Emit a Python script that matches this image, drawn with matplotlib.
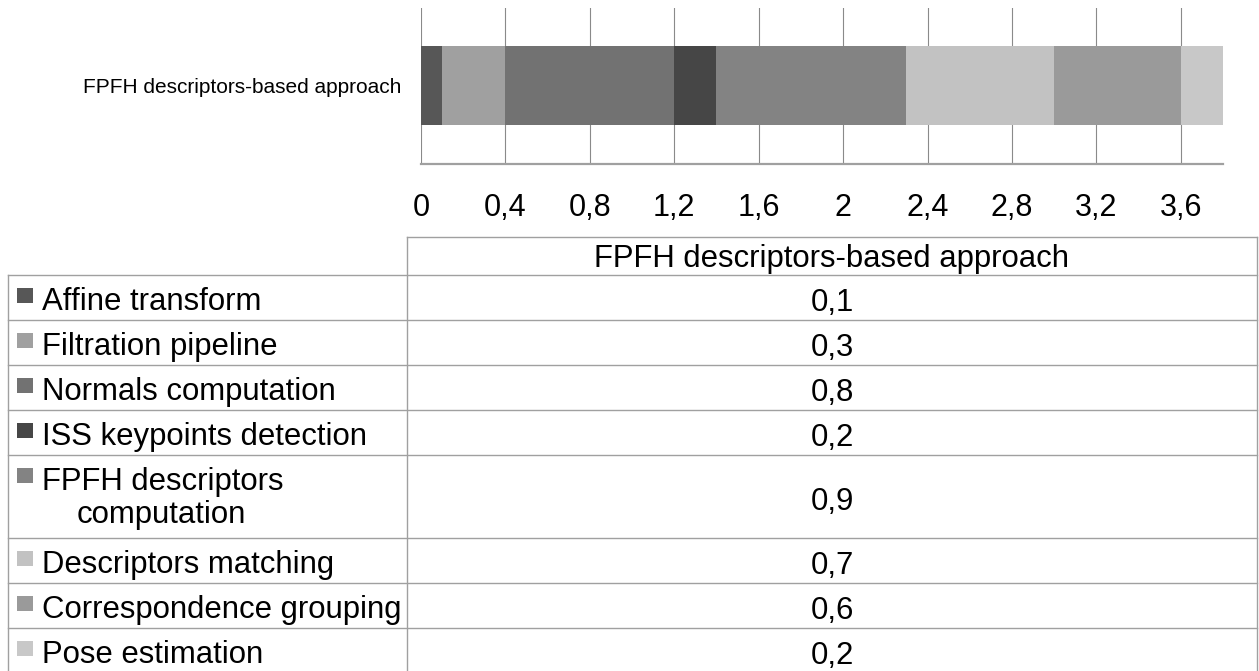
import matplotlib
matplotlib.use("Agg")
import matplotlib.pyplot as plt
from matplotlib.patches import Rectangle
import numpy as np

plt.rcParams['font.family'] = ['Liberation Sans', 'DejaVu Sans']

approach = "FPFH descriptors-based approach"
stages = ["Affine transform", "Filtration pipeline", "Normals computation",
          "ISS keypoints detection", "FPFH descriptors\ncomputation",
          "Descriptors matching", "Correspondence grouping", "Pose estimation"]
times = [0.1, 0.3, 0.8, 0.2, 0.9, 0.7, 0.6, 0.2]
colors = ["#575757", "#a0a0a0", "#727272", "#464646",
          "#838383", "#c2c2c2", "#9a9a9a", "#c8c8c8"]
x_ticks = [0, 0.4, 0.8, 1.2, 1.6, 2, 2.4, 2.8, 3.2, 3.6]


def comma(v):
    return f"{v:g}".replace(".", ",")


W, H = 1259, 671
fig = plt.figure(figsize=(W / 100, H / 100), dpi=100)

# stacked bar on top
ax = fig.add_axes([421 / W, 1 - 163.5 / H, (1223 - 421) / W, 155.5 / H])
left = np.concatenate([[0], np.cumsum(times)[:-1]])
ax.barh(0, times, left=left, color=colors, height=0.51)
ax.set_xlim(0, 3.8)
ax.set_ylim(-0.5, 0.5)
ax.set_xticks(x_ticks)
ax.set_xticklabels([comma(v) for v in x_ticks], fontsize=22)
ax.set_yticks([0])
ax.set_yticklabels([approach], fontsize=15)
ax.tick_params(axis='x', length=0, pad=21)
ax.tick_params(axis='y', length=0, pad=14)
ax.xaxis.grid(True, color="#8a8a8a", lw=0.8)
ax.set_axisbelow(True)
for s in ("top", "right", "left"):
    ax.spines[s].set_visible(False)
ax.spines["bottom"].set_color("#a0a0a0")
ax.spines["bottom"].set_linewidth(1.6)

# data table underneath, laid out in pixel units
tb = fig.add_axes([0, 0, 1, 1])
tb.set_xlim(0, W)
tb.set_ylim(H, 0)
tb.axis("off")

x_left, x_mid, x_right = 8, 407, 1257
head_top, head_bot = 237, 275
line_kw = dict(color="#a0a0a0", lw=1.0)
fs = 22.4

tb.plot([x_mid, x_right], [head_top, head_top], **line_kw)
tb.plot([x_mid, x_mid], [head_top, H + 5], **line_kw)
tb.plot([x_right, x_right], [head_top, H + 5], **line_kw)
tb.plot([x_left, x_left], [head_bot, H + 5], **line_kw)
tb.text((x_mid + x_right) / 2, head_bot - 8, approach,
        fontsize=fs, ha="center", va="baseline")

y = head_bot
for name, val, c in zip(stages, times, colors):
    lines = name.split("\n")
    h = 45 + 38 * (len(lines) - 1)
    tb.plot([x_left, x_right], [y, y], **line_kw)
    base = y + 35
    tb.add_patch(Rectangle((17, base - 22), 16, 15, color=c, lw=0))
    for i, ln in enumerate(lines):
        tb.text(42 if i == 0 else 77, base + 33 * i, ln, fontsize=fs,
                ha="left", va="baseline")
    tb.text((x_mid + x_right) / 2, y + h / 2 + 13.5, comma(val), fontsize=fs,
            ha="center", va="baseline")
    y += h
tb.plot([x_left, x_right], [y, y], **line_kw)

fig.savefig("out.png", dpi=100)
